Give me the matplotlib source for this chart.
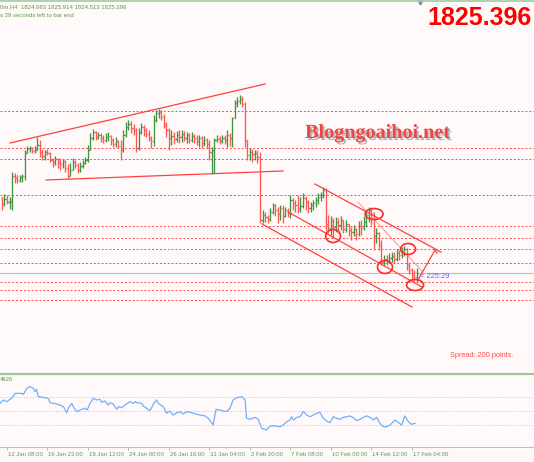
import numpy as np
import matplotlib
matplotlib.use('Agg')
import matplotlib.pyplot as plt
import matplotlib.patheffects as pe
from matplotlib.collections import LineCollection
from matplotlib.patches import Ellipse
from matplotlib.lines import Line2D

plt.rcParams['font.family'] = ['Liberation Sans', 'DejaVu Sans']

bg = '#fffaf9'
up_col = '#3f923f'
dn_col = '#ff5656'
lvl_col = '#ff4a4a'
txt_green = '#5e9a4e'

# H4 bars, index 0 = 12 Jan 08:00
first_open = 1863
closes = [1860, 1862.5, 1861, 1861.5, 1874, 1873, 1872, 1873.5, 1874, 1885.5,
          1887.5, 1888, 1886.5, 1887, 1889.5, 1886, 1884, 1886, 1885.5, 1882,
          1881, 1882.5, 1881, 1880, 1881.5, 1878, 1874, 1877, 1881, 1879.5,
          1877, 1879, 1880.5, 1882, 1887, 1893, 1896, 1893.5, 1894.5, 1893,
          1892, 1893.5, 1894, 1892, 1890, 1891.5, 1889, 1887, 1894.5, 1898.5,
          1900, 1898, 1897, 1888, 1896, 1898.5, 1897, 1895, 1893, 1891.5,
          1902, 1905.5, 1906, 1903.5, 1899.5, 1897, 1893, 1894, 1892.5, 1894.5,
          1893.5, 1895, 1893, 1894.5, 1892, 1894, 1893, 1891.5, 1893, 1890.5,
          1892, 1890, 1886, 1887, 1892, 1892.5, 1891.5, 1893, 1892, 1894.5,
          1893, 1903, 1910.5, 1911.5, 1912.5, 1910, 1892, 1884.5, 1886, 1885,
          1885.5, 1883.5, 1852, 1854.5, 1853.5, 1852.5, 1856, 1859.5, 1857, 1855,
          1858, 1854, 1857, 1855.5, 1862, 1860.5, 1859.5, 1858, 1859, 1863,
          1861, 1858, 1859.5, 1860.5, 1862, 1863.5, 1864.5, 1867, 1850, 1848,
          1851.5, 1848.5, 1851, 1849.5, 1852, 1847.5, 1850, 1847, 1846, 1847.5,
          1845, 1849, 1848, 1851, 1854.5, 1857, 1855.5, 1844, 1845.5, 1839.5,
          1831, 1832.5, 1831, 1833, 1834, 1832.5, 1835.5, 1834.5, 1836.5, 1837.5,
          1829.5, 1827, 1824.5, 1823.5, 1825.396]
highs = [1863.5, 1865, 1864.5, 1863.5, 1876, 1875.5, 1874.5, 1874.5, 1875, 1887,
         1889, 1889, 1888.5, 1889, 1893.5, 1892, 1887.5, 1887, 1887.5, 1886,
         1883, 1884, 1883, 1883, 1882.5, 1882, 1880, 1880.5, 1883, 1882,
         1880.5, 1881, 1882, 1883.5, 1889.5, 1895.5, 1897.5, 1896.5, 1896, 1895.5,
         1894.5, 1895.5, 1896, 1894.5, 1893, 1893.5, 1892, 1892, 1897, 1901,
         1902, 1901.5, 1900, 1898, 1898, 1900.5, 1899.5, 1898, 1897, 1894,
         1904.5, 1907, 1907.5, 1907, 1905, 1901, 1898, 1897, 1896, 1896.5,
         1897, 1897, 1896.5, 1896, 1895.5, 1896, 1895, 1894.5, 1894.5, 1894,
         1894, 1893, 1892, 1888.5, 1893, 1894.5, 1894, 1894.5, 1894.5, 1897,
         1895.5, 1903.5, 1912, 1913.5, 1914.5, 1914, 1911, 1892, 1888, 1887.5,
         1887, 1887, 1886, 1857, 1856, 1854.5, 1858, 1860.5, 1860, 1858.5,
         1859.5, 1859.5, 1858.5, 1858, 1864.5, 1863, 1862, 1864.5, 1863.5, 1865.5,
         1864, 1862, 1861, 1862, 1863.5, 1865.5, 1866, 1868.5, 1868, 1854.5,
         1854, 1853, 1853.5, 1853, 1854, 1852, 1852, 1850, 1848.5, 1849.5,
         1848, 1851.5, 1852, 1854, 1856, 1858.5, 1858, 1856, 1848, 1846,
         1842, 1834.5, 1834.5, 1835.5, 1836, 1836, 1837.5, 1837, 1838.5, 1839,
         1838, 1831, 1828, 1827, 1828]
lows = [1857, 1859, 1860, 1857.5, 1857, 1870.5, 1870.5, 1871, 1871, 1872,
        1885.5, 1886, 1885.5, 1885.5, 1887, 1883.5, 1882, 1882, 1884.5, 1881,
        1878.5, 1879.5, 1878, 1877, 1878, 1876, 1872.5, 1874, 1877, 1878,
        1875.5, 1876, 1878, 1880, 1881, 1887, 1892, 1892, 1892.5, 1891,
        1890.5, 1891, 1891.5, 1889.5, 1888.5, 1888.5, 1888, 1882, 1886, 1893.5,
        1897, 1895.5, 1894.5, 1886, 1887, 1895, 1894, 1893.5, 1891.5, 1888,
        1889, 1901, 1903, 1902, 1898, 1893.5, 1887, 1889.5, 1890, 1891,
        1890.5, 1891, 1891.5, 1890.5, 1890.5, 1891, 1890.5, 1889.5, 1888.5, 1888,
        1889, 1888, 1882, 1875, 1875.5, 1891, 1890, 1890.5, 1890, 1888.5,
        1889, 1888.5, 1903, 1908.5, 1910, 1908.5, 1888.5, 1882, 1882, 1881,
        1882, 1880.5, 1850.5, 1850.5, 1851, 1850.5, 1851.5, 1855, 1854, 1850.5,
        1852, 1850.5, 1853.5, 1853.5, 1853, 1857, 1856, 1855.5, 1856, 1858,
        1857, 1855.5, 1856, 1857, 1858.5, 1860, 1861.5, 1863, 1847, 1845.5,
        1844.5, 1843, 1846, 1845.5, 1847, 1845.5, 1846, 1844, 1842, 1844,
        1842, 1844, 1844.5, 1847, 1848.5, 1851, 1849.5, 1837, 1840.5, 1837,
        1829.5, 1829.5, 1829.5, 1830.5, 1831, 1830.5, 1831.5, 1832, 1833, 1834,
        1827, 1825, 1822, 1821, 1821]

# horizontal levels drawn on the chart
levels = [1906.5, 1888, 1882.5, 1864.5, 1849, 1843, 1837.5, 1830.5, 1821, 1817, 1812]
last_price = 1825.396

# trend lines: (x0, y0, x1, y1) in bar index / price
trend_lines = [(1.2, 1890.5, 102, 1920),
               (15.4, 1872, 109.1, 1876.5),
               (121.7, 1870, 171.5, 1836),
               (111.1, 1856, 164, 1818.5),
               (100.8, 1850, 160.1, 1808.5)]
thin_line = (138.7, 1861, 164.4, 1826)
arrow_line = (162.4, 1822, 169.2, 1837)

# marked swing points: x, price, width (bars), height (price)
circles = [(145.1, 1855, 7.1, 5.5),
           (128.9, 1844, 5.9, 6.5),
           (158.5, 1837.5, 5.9, 5.5),
           (149.4, 1828.5, 5.9, 6.5),
           (161.3, 1819.5, 6.7, 5.5)]

# oscillator in the lower window
ind_idx = [-2.8, -1.5, -0.1, 1.8, 3.2, 5.8, 6.5, 7.8, 9.1, 10.4, 11.1, 11.7, 12.4, 14.3,
           16.3, 17.0, 18.3, 19.6, 20.9, 22.3, 23.6, 24.2, 25.6, 26.2, 27.5, 29.5, 30.8,
           31.7, 32.8, 34.1, 35.5, 36.8, 37.4, 38.7, 40.0, 40.7, 42.0, 43.4, 44.0, 45.3,
           46.6, 48.6, 49.9, 50.6, 51.3, 53.2, 53.9, 55.2, 56.5, 58.5, 59.2, 59.8, 61.8,
           63.1, 64.4, 65.7, 67.1, 68.4, 69.7, 71.0, 73.0, 75.0, 76.3, 78.3, 79.6, 81.5,
           82.6, 84.2, 86.8, 88.1, 89.4, 90.8, 92.8, 94.1, 94.7, 96.0, 98.0, 99.3, 100.7,
           102.6, 104.0, 105.9, 107.9, 109.2, 110.6, 111.9, 112.5, 113.2, 114.5, 115.8,
           117.1, 118.5, 119.8, 121.1, 122.4, 123.7, 125.0, 126.4, 127.7, 128.3, 129.0,
           130.3, 131.6, 132.9, 134.3, 135.6, 136.9, 138.2, 139.5, 140.8, 142.2, 143.5,
           144.8, 146.1, 147.4, 148.8, 150.1, 151.4, 153.4, 154.7, 156.0, 157.3, 158.6,
           159.9, 161.3]
ind_val = [60.6, 65.3, 63.0, 67.6, 74.5, 74.5, 73.1, 81.5, 83.8, 81.5, 76.9, 80.1, 69.9, 69.0,
           67.6, 61.6, 60.6, 59.7, 58.3, 56.0, 47.7, 53.7, 60.6, 56.0, 49.1, 52.3, 53.7,
           51.4, 60.6, 67.6, 65.3, 66.2, 62.0, 63.9, 58.3, 61.6, 59.7, 52.3, 56.0, 54.6,
           58.3, 63.0, 60.6, 63.0, 61.6, 60.6, 56.9, 53.7, 50.5, 63.0, 65.3, 60.6, 56.0,
           46.8, 50.0, 44.4, 47.7, 49.1, 45.8, 49.1, 47.7, 45.4, 44.4, 43.1, 39.8, 30.6,
           52.3, 51.4, 49.1, 53.7, 65.3, 68.5, 69.9, 65.3, 39.8, 38.4, 41.2, 38.4, 25.9,
           23.6, 29.2, 29.2, 28.2, 30.6, 35.2, 37.5, 42.1, 37.5, 41.2, 42.1,
           49.1, 44.4, 42.1, 44.4, 46.8, 48.1, 39.8, 36.1, 33.8, 37.5, 42.1,
           39.8, 38.4, 41.2, 42.1, 43.1, 40.7, 36.6, 38.4, 41.2, 43.1, 41.2,
           37.5, 41.2, 32.9, 28.2, 28.2, 30.6, 37.5, 33.8, 30.6, 43.1, 35.2,
           31.5, 32.9]
ind_levels = [70, 50, 30]

tick_idx = [0, 16, 32, 48, 64, 80, 96, 112, 128, 144, 160]
tick_labels = ['12 Jan 08:00', '16 Jan 23:00', '19 Jan 12:00', '24 Jan 00:00',
               '26 Jan 16:00', '31 Jan 04:00', '2 Feb 20:00', '7 Feb 08:00',
               '10 Feb 00:00', '14 Feb 12:00', '17 Feb 04:00']

W, H = 534, 462
fig = plt.figure(figsize=(W / 100, H / 100), dpi=100, facecolor=bg)

# ---- main price window
ax = fig.add_axes([0, 94 / H, 1, 366 / H])
ax.set_facecolor(bg)
ax.set_xlim(-2.77, 208.3)
ax.set_ylim(1778, 1961)
ax.axis('off')

idx = np.arange(-2, -2 + len(closes))
c = np.array(closes)
o = np.concatenate([[first_open], c[:-1]])
h = np.maximum(np.array(highs), np.maximum(o, c))
l = np.minimum(np.array(lows), np.minimum(o, c))

segs, cols = [], []
for i, oo, hh, ll, cc in zip(idx, o, h, l, c):
    col = up_col if cc > oo else dn_col
    segs += [[(i, ll), (i, hh)], [(i - 0.45, oo), (i, oo)], [(i, cc), (i + 0.45, cc)]]
    cols += [col] * 3
ax.add_collection(LineCollection(segs, colors=cols, linewidths=0.95, zorder=3))

for lv in levels:
    ax.axhline(lv, color=lvl_col, lw=0.7, ls=(0, (2, 2)), zorder=1)
ax.axhline(last_price, color='#b9bccb', lw=0.8, zorder=1)

for x0, y0, x1, y1 in trend_lines:
    ax.plot([x0, x1], [y0, y1], color='#ff4040', lw=0.9, zorder=4)
ax.plot([thin_line[0], thin_line[2]], [thin_line[1], thin_line[3]], color='#ff8080', lw=0.6, zorder=4)
ax.plot([arrow_line[0], arrow_line[2]], [arrow_line[1], arrow_line[3]], color='#ff4040', lw=0.9, zorder=4)
ax.plot([arrow_line[2], arrow_line[2] + 0.8], [arrow_line[3], arrow_line[3] - 1.5], color='#ff4040', lw=0.9, zorder=4)

for cx, cy, cw, ch in circles:
    ax.add_patch(Ellipse((cx, cy), cw, ch, fill=False, ec='#ff2a2a', lw=1.2, zorder=5))

ax.text(163.3, 1823.6, '< 225:29', color='#5c5cff', fontsize=5.4, va='center', ha='left')
ax.plot([163.2], [1], marker='v', ms=3.5, color='#7b8e9c', transform=ax.get_xaxis_transform(), clip_on=False)

ax.text(117.8, 1893, 'Blogngoaihoi.net', family='Liberation Serif', weight='bold',
        fontsize=14.5, color='#ef4444', ha='left', va='baseline', zorder=6,
        path_effects=[pe.SimplePatchShadow(offset=(1.5, -1.5), shadow_rgbFace='#777777', alpha=0.5), pe.Normal()])

fig.text(532 / W, 1 - 25 / H, '1825.396', color='#ff0000', fontsize=18, weight='bold', ha='right', va='baseline')
fig.text(0, 1 - 8 / H, '0m,H4  1824.683 1825.914 1824.513 1825.396', color=txt_green, fontsize=4.3, ha='left', va='baseline')
fig.text(0, 1 - 17 / H, 's 29 seconds left to bar end', color=txt_green, fontsize=4.3, ha='left', va='baseline')
fig.text(450 / W, 1 - 357 / H, 'Spread: 200 points.', color='#ff4d4d', fontsize=5.3, ha='left', va='baseline')
fig.add_artist(Line2D([0, 1], [1 - 0.8 / H] * 2, transform=fig.transFigure, color='#a6cfa6', lw=1.3))

# ---- oscillator window
ax2 = fig.add_axes([0, 15 / H, 1, 73 / H])
ax2.set_facecolor(bg)
ax2.set_xlim(-2.77, 208.3)
ax2.set_ylim(0, 101.4)
for lv in ind_levels:
    ax2.axhline(lv, color='#c4c4c4', lw=0.6, ls=(0, (1.5, 2)))
ax2.plot(ind_idx, ind_val, color='#6fb0ff', lw=0.9)
for s in ['left', 'right']:
    ax2.spines[s].set_visible(False)
ax2.spines['top'].set_color('#96c996')
ax2.spines['top'].set_linewidth(1.6)
ax2.spines['bottom'].set_color('#a8d0a8')
ax2.spines['bottom'].set_linewidth(0.8)
ax2.set_yticks([])
ax2.set_xticks(tick_idx)
ax2.set_xticklabels([])
ax2.tick_params(axis='x', length=2.5, width=0.6, color='#8fbf8f', direction='out')
for t, lab in zip(tick_idx, tick_labels):
    ax2.text(t + 0.4, -0.1, lab, transform=ax2.get_xaxis_transform(), color=txt_green,
             fontsize=4.3, ha='left', va='center')
ax2.text(0.0, 0.92, '4626', transform=ax2.transAxes, color=txt_green, fontsize=4.3, ha='left', va='center')

fig.savefig('out.png', dpi=100, facecolor=bg)
